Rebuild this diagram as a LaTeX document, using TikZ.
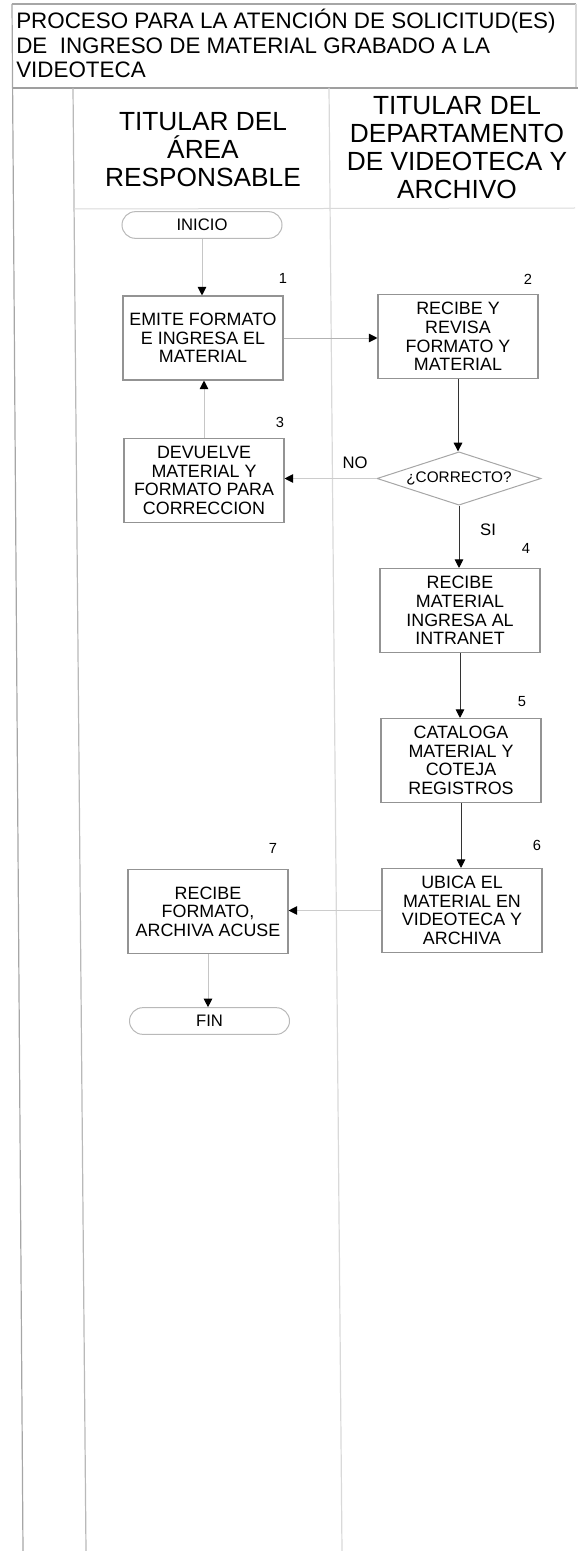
\documentclass[tikz,border=0pt]{standalone}
\usepackage{fontspec}
\setmainfont{Liberation Sans}
\usetikzlibrary{arrows.meta,shapes.geometric}
\begin{document}
\begin{tikzpicture}[x=0.75pt,y=-0.75pt,
  stepbox/.style={draw=gray!85, line width=0.8pt, minimum width=120pt, minimum height=63pt, inner sep=0pt, align=center, font=\fontsize{13.4}{13.9}\selectfont, text=black},
  term/.style={draw=gray!55, line width=0.75pt, rounded corners=10pt, minimum width=120pt, minimum height=20pt, inner sep=0pt, font=\fontsize{12.5}{14}\selectfont, text=black},
  decide/.style={diamond, draw=gray!70, line width=0.75pt, aspect=3, minimum width=123pt, minimum height=40pt, inner sep=0pt, font=\fontsize{11.5}{13}\selectfont, text=black},
  num/.style={font=\fontsize{11}{12}\selectfont, inner sep=0pt, text=black},
  lbl/.style={font=\fontsize{12.5}{14}\selectfont, inner sep=0pt, text=black},
  head/.style={align=center, font=\fontsize{19.7}{21}\selectfont, inner sep=0pt, text=black},
  ttl/.style={anchor=base west, font=\fontsize{16.8}{18}\selectfont, inner sep=0pt, text=black},
  arr/.style={line width=0.75pt, -{Triangle[length=6.5pt,width=6.5pt,color=black]}},
  frame/.style={line width=0.9pt},
]
\useasboundingbox (0,0) rectangle (581,1551);

% frame and lanes
\draw[frame, gray!70] (12,4) -- (576,4);
\draw[frame, gray!30] (576,4) -- (576,88);
\draw[frame, gray!75] (12,88) -- (578,88);
\draw[frame, gray!70] (12,4) -- (23,1551);
\draw[frame, gray!55] (73,88) -- (86,1551);
\draw[frame, gray!30] (329,88) -- (342,1551);
\draw[line width=0.75pt, gray!30] (74,209) -- (575,208);

% title
\node[ttl] (t1) at (16,29) {PROCESO PARA LA ATENCIÓN DE SOLICITUD(ES)};
\node[ttl] (t2) at (16,53.5) {DE \ INGRESO DE MATERIAL GRABADO A LA};
\node[ttl] (t3) at (16,78) {VIDEOTECA};

% lane headers
\node[head] (h1) at (203,150) {TITULAR DEL\\ÁREA\\RESPONSABLE};
\node[head] (h2) at (457,148) {TITULAR DEL\\DEPARTAMENTO\\DE VIDEOTECA Y\\ARCHIVO};

% nodes
\node[term] (ini) at (202,225) {INICIO};
\node[stepbox] (b1) at (203,338) {EMITE FORMATO\\E INGRESA EL\\MATERIAL};
\node[stepbox] (b2) at (458,336.5) {RECIBE Y\\REVISA\\FORMATO Y\\MATERIAL};
\node[decide] (d) at (459,478.5) {¿CORRECTO?};
\node[stepbox] (b3) at (204,480.5) {DEVUELVE\\MATERIAL Y\\FORMATO PARA\\CORRECCION};
\node[stepbox] (b4) at (460,610.5) {RECIBE\\MATERIAL\\INGRESA AL\\INTRANET};
\node[stepbox] (b5) at (461,760.5) {CATALOGA\\MATERIAL Y\\COTEJA\\REGISTROS};
\node[stepbox] (b6) at (462,910.5) {UBICA EL\\MATERIAL EN\\VIDEOTECA Y\\ARCHIVA};
\node[stepbox] (b7) at (208,911.5) {RECIBE\\FORMATO,\\ARCHIVA ACUSE};
\node[term] (fin) at (209.5,1021) {FIN};

% step numbers
\node[num] (n1) at (283,278) {1};
\node[num] (n2) at (528,279) {2};
\node[num] (n3) at (280,422) {3};
\node[num] (n4) at (526,548) {4};
\node[num] (n5) at (522,702) {5};
\node[num] (n6) at (537,845) {6};
\node[num] (n7) at (273,848) {7};

% labels
\node[lbl] (lno) at (355,463) {NO};
\node[lbl] (lsi) at (488,530) {SI};

% connectors
\draw[arr, gray!45] (ini.south) -- (ini.south |- b1.north);
\draw[arr, gray!60] (b1.east) -- (b1.east -| b2.west);
\draw[arr, black!80] (b2.south) -- (b2.south |- d.north);
\draw[arr, gray!40] (d.west) -- (d.west -| b3.east);
\draw[arr, gray!45] (b3.north) -- (b3.north |- b1.south);
\draw[arr, black!80] (d.south) -- (d.south |- b4.north);
\draw[arr, black!80] (b4.south) -- (b4.south |- b5.north);
\draw[arr, black!80] (b5.south) -- (b5.south |- b6.north);
\draw[arr, gray!40] (b6.west) -- (b6.west -| b7.east);
\draw[arr, gray!45] (b7.south) -- (b7.south |- fin.north);
\end{tikzpicture}
\end{document}
